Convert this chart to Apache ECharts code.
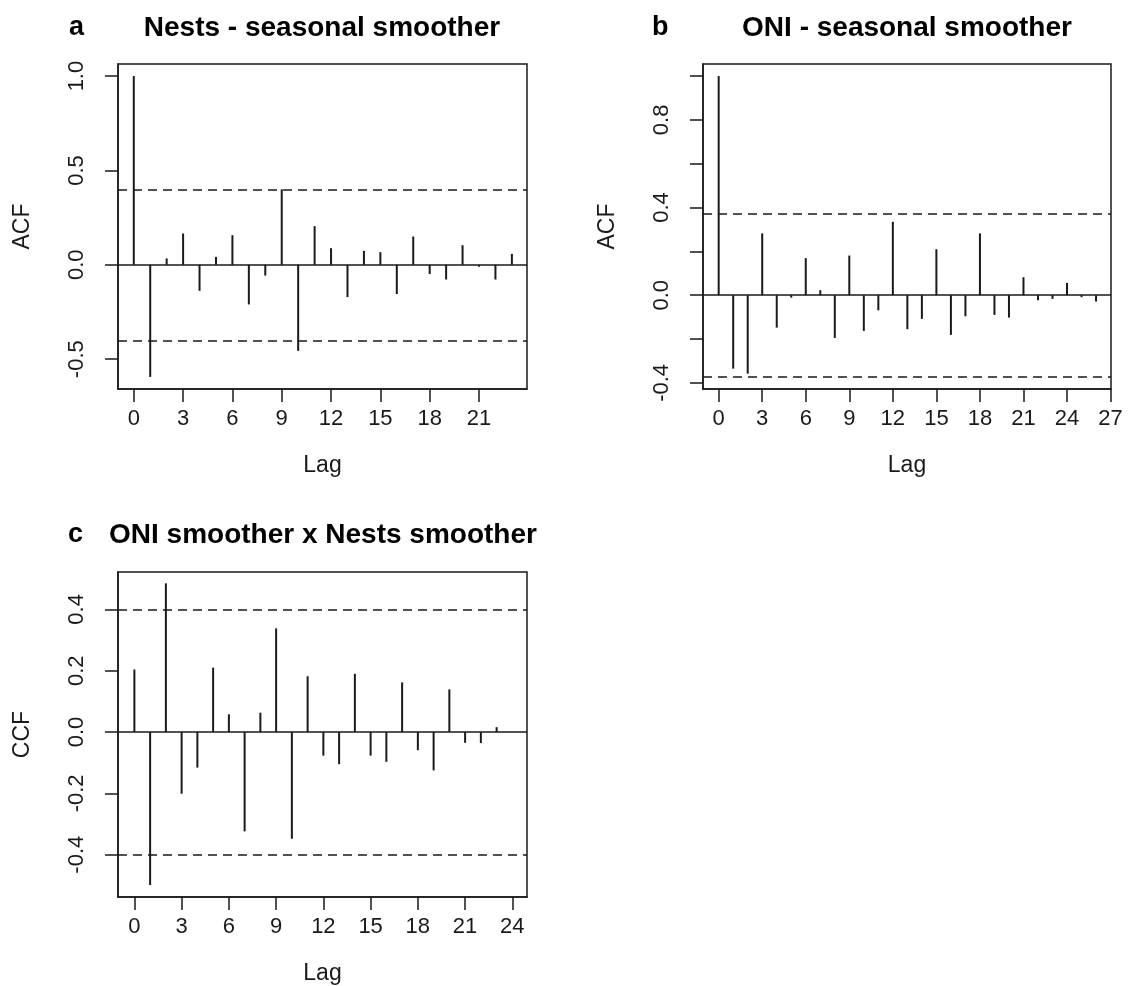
<!DOCTYPE html>
<html>
<head>
<meta charset="utf-8">
<script src="https://cdn.jsdelivr.net/npm/echarts@6/dist/echarts.min.js"></script>
<style>
  html, body { margin: 0; padding: 0; background: #ffffff; }
  #chart { width: 1129px; height: 986px; }
</style>
</head>
<body>
<div id="chart"></div>
<script>
// Autocorrelation of the nest series (lags 0..23)
const nestsAcf = [1.0, -0.594, 0.034, 0.166, -0.138, 0.042, 0.157, -0.210, -0.057, 0.400,
  -0.456, 0.205, 0.088, -0.171, 0.074, 0.067, -0.155, 0.150, -0.049, -0.078,
  0.104, -0.010, -0.078, 0.058];
// Autocorrelation of the ONI series (lags 0..26)
const oniAcf = [1.0, -0.335, -0.358, 0.282, -0.148, -0.011, 0.169, 0.023, -0.195, 0.181,
  -0.163, -0.069, 0.335, -0.155, -0.108, 0.210, -0.181, -0.096, 0.282, -0.090,
  -0.102, 0.082, -0.023, -0.017, 0.056, -0.009, -0.029];
// Cross-correlation ONI x nests (lags 0..23)
const oniNestsCcf = [0.204, -0.499, 0.485, -0.201, -0.116, 0.210, 0.058, -0.324, 0.063, 0.338,
  -0.348, 0.182, -0.077, -0.105, 0.190, -0.077, -0.097, 0.162, -0.059, -0.125,
  0.139, -0.035, -0.036, 0.016];

// Significance bounds
const nestsConf = 0.40;
const oniConf = 0.374;
const ccfConf = 0.40;

// Tick positions and labels
const lagTicksA = [0, 3, 6, 9, 12, 15, 18, 21];
const lagTicksB = [0, 3, 6, 9, 12, 15, 18, 21, 24, 27];
const lagTicksC = [0, 3, 6, 9, 12, 15, 18, 21, 24];
const acfTicksA = [-0.5, 0, 0.5, 1.0];
const acfTicksB = [-0.4, -0.2, 0, 0.2, 0.4, 0.6, 0.8, 1.0];
const acfLabelsB = [-0.4, 0, 0.4, 0.8];
const ccfTicks = [-0.4, -0.2, 0, 0.2, 0.4];

const titles = ['Nests - seasonal smoother', 'ONI - seasonal smoother', 'ONI smoother x Nests smoother'];
const letters = ['a', 'b', 'c'];

const FONT = '"Liberation Sans", Arial, Helvetica, sans-serif';
const INK = '#1a1a1a';

const panels = [
  { grid: { left: 118, top: 64, width: 409, height: 325 }, values: nestsAcf, conf: nestsConf,
    x: { min: -0.96, max: 23.92, ticks: lagTicksA },
    y: { min: -0.658, max: 1.064, ticks: acfTicksA, labels: acfTicksA }, yName: 'ACF',
    title: { x: 322, y: 28 }, letter: { x: 69, y: 28 } },
  { grid: { left: 703, top: 64, width: 408, height: 325 }, values: oniAcf, conf: oniConf,
    x: { min: -1.08, max: 27.03, ticks: lagTicksB },
    y: { min: -0.428, max: 1.055, ticks: acfTicksB, labels: acfLabelsB }, yName: 'ACF',
    title: { x: 907, y: 28 }, letter: { x: 652, y: 28 } },
  { grid: { left: 118, top: 572, width: 409, height: 325 }, values: oniNestsCcf, conf: ccfConf,
    x: { min: -1.04, max: 24.93, ticks: lagTicksC },
    y: { min: -0.538, max: 0.522, ticks: ccfTicks, labels: ccfTicks }, yName: 'CCF',
    title: { x: 323, y: 535 }, letter: { x: 68, y: 535 } }
];

const axisLineStyle = { color: INK, width: 1.5 };

const option = {
  animation: false,
  backgroundColor: '#ffffff',
  grid: panels.map(p => Object.assign({ show: true, borderColor: INK, borderWidth: 1.5,
    backgroundColor: 'transparent', containLabel: false }, p.grid)),
  xAxis: panels.map((p, i) => ({
    gridIndex: i, type: 'value', min: p.x.min, max: p.x.max,
    axisLine: { show: true, onZero: false, lineStyle: axisLineStyle },
    axisTick: { show: true, inside: false, length: 13, customValues: p.x.ticks, lineStyle: axisLineStyle },
    axisLabel: { show: true, customValues: p.x.ticks, margin: 19, fontSize: 22, color: INK, fontFamily: FONT },
    splitLine: { show: false },
    name: 'Lag', nameLocation: 'middle', nameGap: 65,
    nameTextStyle: { fontSize: 23, color: INK, fontFamily: FONT }
  })),
  yAxis: panels.map((p, i) => ({
    gridIndex: i, type: 'value', min: p.y.min, max: p.y.max,
    axisLine: { show: true, onZero: false, lineStyle: axisLineStyle },
    axisTick: { show: true, inside: false, length: 13, customValues: p.y.ticks, lineStyle: axisLineStyle },
    axisLabel: { show: true, customValues: p.y.labels, rotate: 90, margin: 30, fontSize: 22,
      color: INK, fontFamily: FONT, formatter: v => Number(v).toFixed(1) },
    splitLine: { show: false },
    name: p.yName, nameLocation: 'middle', nameRotate: 90, nameGap: 84,
    nameTextStyle: { fontSize: 23, color: INK, fontFamily: FONT }
  })),
  series: panels.map((p, i) => ({
    type: 'bar', xAxisIndex: i, yAxisIndex: i, barWidth: 2, silent: true,
    itemStyle: { color: INK },
    data: p.values.map((v, k) => [k, v]),
    markLine: {
      silent: true, symbol: 'none', label: { show: false },
      lineStyle: { color: INK, width: 1.5 },
      data: [
        { yAxis: 0, lineStyle: { type: 'solid', color: INK, width: 1.5 } },
        { yAxis: p.conf, lineStyle: { type: [9, 6], color: INK, width: 1.5 } },
        { yAxis: -p.conf, lineStyle: { type: [9, 6], color: INK, width: 1.5 } }
      ]
    }
  })),
  graphic: panels.flatMap((p, i) => [
    { type: 'text', x: p.title.x, y: p.title.y, silent: true,
      style: { text: titles[i], font: 'bold 28px ' + FONT, fill: '#000',
        align: 'center', verticalAlign: 'middle', textAlign: 'center', textVerticalAlign: 'middle' } },
    { type: 'text', x: p.letter.x, y: p.letter.y, silent: true,
      style: { text: letters[i], font: 'bold 27px ' + FONT, fill: '#000',
        align: 'left', verticalAlign: 'middle', textAlign: 'left', textVerticalAlign: 'middle' } }
  ])
};

const chart = echarts.init(document.getElementById('chart'), null, { renderer: 'canvas' });
chart.setOption(option);
</script>
</body>
</html>
